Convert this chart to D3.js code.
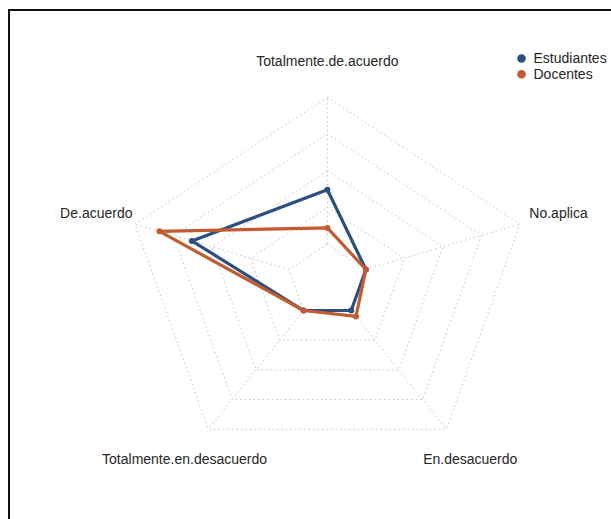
<!DOCTYPE html>
<html>
<head>
<meta charset="utf-8">
<script src="https://cdn.jsdelivr.net/npm/d3@7"></script>
<style>
  html, body { margin: 0; padding: 0; background: #fff; }
  svg { display: block; }
  text { font-family: "Liberation Sans", Arial, sans-serif; }
</style>
</head>
<body>
<svg id="chart" width="611" height="519"></svg>
<script>
// ---- data ----
const axesLabels = ["Totalmente.de.acuerdo", "No.aplica", "En.desacuerdo", "Totalmente.en.desacuerdo", "De.acuerdo"];
const seriesNames = ["Estudiantes", "Docentes"];
const estudiantes = [0.37, 0, 0, 0, 0.63];
const docentes = [0.11, 0, 0.05, 0, 0.84];
const gridTicks = [0, 0.25, 0.5, 0.75, 1];
const colors = ["#2C4F7D", "#C35B30"];

const svg = d3.select("#chart");
const W = 611, H = 519;

// frame
svg.append("rect")
  .attr("x", 9).attr("y", 10).attr("width", 640).attr("height", 540)
  .attr("fill", "none").attr("stroke", "#111").attr("stroke-width", 2);

const cx = 327.4, cy = 280.8, Rx = 202.5, Ry = 183.5;
const rScale = d3.scaleLinear().domain([0, 1]).range([0.2, 1]);
const angle = d3.scaleLinear().domain([0, axesLabels.length]).range([0, 2 * Math.PI]);

function pt(i, r) {
  const a = angle(i);
  return [cx + Rx * r * Math.sin(a), cy - Ry * r * Math.cos(a)];
}

const g = svg.append("g");

// grid polygons
const lineClosed = d3.line().curve(d3.curveLinearClosed);
gridTicks.forEach(t => {
  const r = rScale(t);
  g.append("path")
    .attr("d", lineClosed(axesLabels.map((_, i) => pt(i, r))))
    .attr("fill", "none")
    .attr("stroke", "#c4c4c4")
    .attr("stroke-width", 1)
    .attr("stroke-dasharray", "1.5,3");
});
// spokes
axesLabels.forEach((_, i) => {
  const p0 = pt(i, rScale(0)), p1 = pt(i, rScale(1));
  g.append("line")
    .attr("x1", p0[0]).attr("y1", p0[1]).attr("x2", p1[0]).attr("y2", p1[1])
    .attr("stroke", "#c4c4c4").attr("stroke-width", 1).attr("stroke-dasharray", "1.5,3");
});

// axis labels
axesLabels.forEach((lab, i) => {
  const p = pt(i, 1.2);
  g.append("text")
    .attr("x", p[0]).attr("y", p[1])
    .attr("dy", "0.35em")
    .attr("text-anchor", "middle")
    .attr("font-size", 14)
    .attr("fill", "#262626")
    .text(lab);
});

// series
const data = [estudiantes, docentes];
data.forEach((vals, s) => {
  const pts = vals.map((v, i) => pt(i, rScale(v)));
  g.append("path")
    .attr("d", lineClosed(pts))
    .attr("fill", "none")
    .attr("stroke", colors[s])
    .attr("stroke-width", 3.2)
    .attr("stroke-linejoin", "round");
  g.selectAll(null).data(pts).enter().append("circle")
    .attr("cx", d => d[0]).attr("cy", d => d[1]).attr("r", 3)
    .attr("fill", colors[s]);
});

// legend
const leg = svg.append("g");
seriesNames.forEach((n, s) => {
  const y = 58.5 + s * 15.8;
  leg.append("circle").attr("cx", 521.5).attr("cy", y).attr("r", 4.3).attr("fill", colors[s]);
  leg.append("text").attr("x", 533.5).attr("y", y).attr("dy", "0.35em")
    .attr("font-size", 14).attr("fill", "#262626").text(n);
});
</script>
</body>
</html>
